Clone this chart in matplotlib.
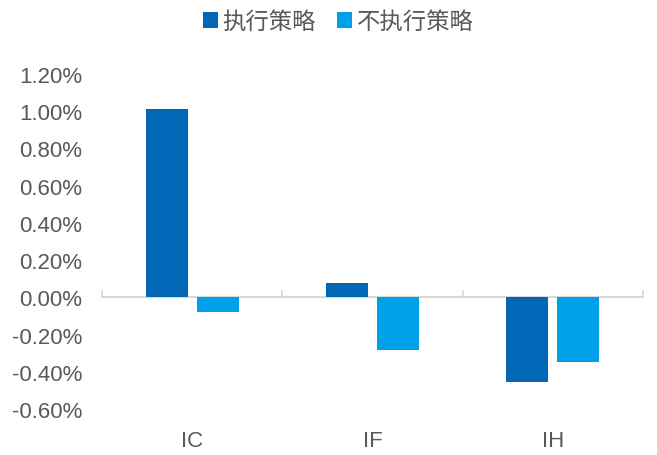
import matplotlib
matplotlib.use("Agg")
import matplotlib.pyplot as plt
import numpy as np
from matplotlib.ticker import FuncFormatter

plt.rcParams['font.family'] = ['Liberation Sans', 'Noto Sans CJK SC', 'DejaVu Sans']

categories = ["IC", "IF", "IH"]
series_names = ["执行策略", "不执行策略"]
exec_vals = [1.01, 0.075, -0.455]
noexec_vals = [-0.08, -0.285, -0.345]
yticks = [-0.6, -0.4, -0.2, 0.0, 0.2, 0.4, 0.6, 0.8, 1.0, 1.2]

dark = "#0068B7"
light = "#00A0E9"
txt = "#595959"

fig = plt.figure(figsize=(6.57, 4.56), dpi=100)
ax = fig.add_axes([102/657, 1-410/456, (643-102)/657, (410-75)/456])

x = np.arange(len(categories))
w = 0.233
off = 0.142
ax.bar(x - off, exec_vals, w, color=dark, label=series_names[0], zorder=3)
ax.bar(x + off, noexec_vals, w, color=light, label=series_names[1], zorder=3)

ax.set_xlim(-0.5, 2.5)
ax.set_ylim(-0.6, 1.2)
ax.set_yticks(yticks)
ax.yaxis.set_major_formatter(FuncFormatter(lambda v, p: f"{v:.2f}%"))
ax.tick_params(axis='y', length=0, pad=14, labelsize=16, labelcolor=txt)
ax.set_xticks(x)
ax.set_xticklabels(categories)
ax.tick_params(axis='x', length=0, pad=15, labelsize=16, labelcolor=txt)
for s in ax.spines.values():
    s.set_visible(False)

# zero line with boundary ticks
sec = ax.secondary_xaxis((0 - (-0.6)) / 1.8)
sec.set_xticks([-0.5, 0.5, 1.5, 2.5])
sec.set_xticklabels([])
sec.tick_params(direction='in', length=5, width=1.2, color="#D9D9D9")
sec.spines['bottom'].set_color("#D9D9D9")
sec.spines['bottom'].set_linewidth(1.5)
sec.spines['bottom'].set_zorder(1)

leg = fig.legend(loc='upper center', bbox_to_anchor=(0.515, 1.022), ncol=2, frameon=False,
                 fontsize=16.8, handlelength=0.65, handleheight=0.65, handletextpad=0.2,
                 columnspacing=0.9, labelcolor=txt)

fig.savefig("out.png", dpi=100)
